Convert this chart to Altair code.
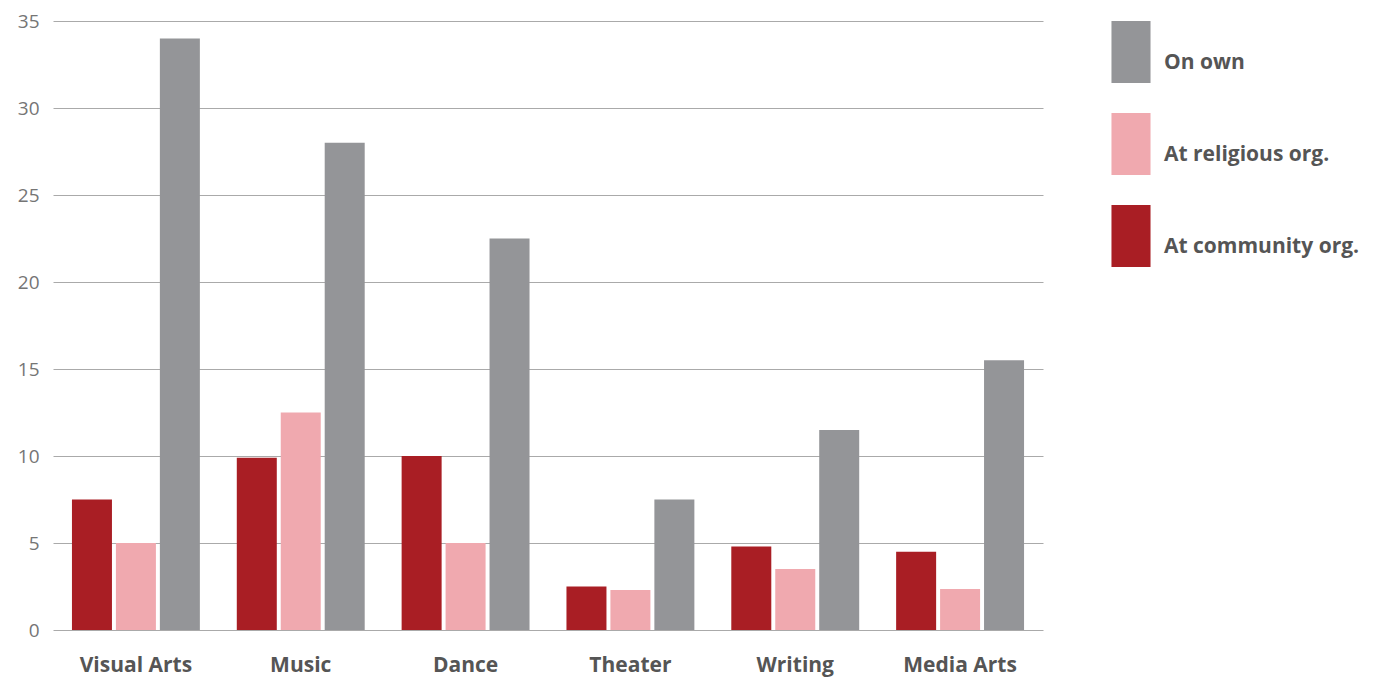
import altair as alt
import pandas as pd

categories = ["Visual Arts", "Music", "Dance", "Theater", "Writing", "Media Arts"]
series = ["At community org.", "At religious org.", "On own"]
community = [7.5, 9.9, 10.0, 2.5, 4.8, 4.5]
religious = [5.0, 12.5, 5.0, 2.3, 3.5, 2.35]
own = [34.0, 28.0, 22.5, 7.5, 11.5, 15.5]
colors = ["#A91E24", "#F0A9AF", "#949598"]
legend_order = ["On own", "At religious org.", "At community org."]

rows = []
for i, c in enumerate(categories):
    for s, vals in zip(series, [community, religious, own]):
        rows.append({"category": c, "series": s, "value": vals[i]})
df = pd.DataFrame(rows)

FONT = "Open Sans"

chart = alt.Chart(df).mark_bar().encode(
    x=alt.X("category:N", sort=categories, title=None,
            scale=alt.Scale(paddingInner=0.224, paddingOuter=0.115),
            axis=alt.Axis(labelAngle=0, labelFontSize=21, labelFontWeight="bold",
                          labelColor="#555555", labelFont=FONT, ticks=False,
                          domain=False, labelPadding=24)),
    xOffset=alt.XOffset("series:N", sort=series,
                        scale=alt.Scale(paddingInner=0.09, paddingOuter=0)),
    y=alt.Y("value:Q", title=None,
            scale=alt.Scale(domain=[0, 35], nice=False),
            axis=alt.Axis(values=[0, 5, 10, 15, 20, 25, 30, 35], labelFontSize=19,
                          labelColor="#757575", labelFont=FONT, ticks=False,
                          domain=False, labelPadding=14, gridColor="#AAAAAA",
                          gridWidth=1)),
    color=alt.Color("series:N", sort=legend_order,
                    scale=alt.Scale(domain=legend_order,
                                    range=[colors[2], colors[1], colors[0]]),
                    legend=alt.Legend(title=None, orient="right", offset=57,
                                      symbolType="M-0.63,-1H0.63V1H-0.63Z",
                                      symbolSize=3844, symbolStrokeWidth=0,
                                      symbolOpacity=1,
                                      labelFontSize=21, labelFontWeight="bold",
                                      labelColor="#555555", labelFont=FONT,
                                      labelOffset=2, labelBaseline="top",
                                      rowPadding=30, padding=0,
                                      labelLimit=400)),
).properties(
    width=990, height=609,
    padding={"left": 9, "top": 4, "right": 5, "bottom": 5},
).configure_view(stroke=None)

chart.save("out.html", embed_options={"renderer": "svg", "actions": False})
